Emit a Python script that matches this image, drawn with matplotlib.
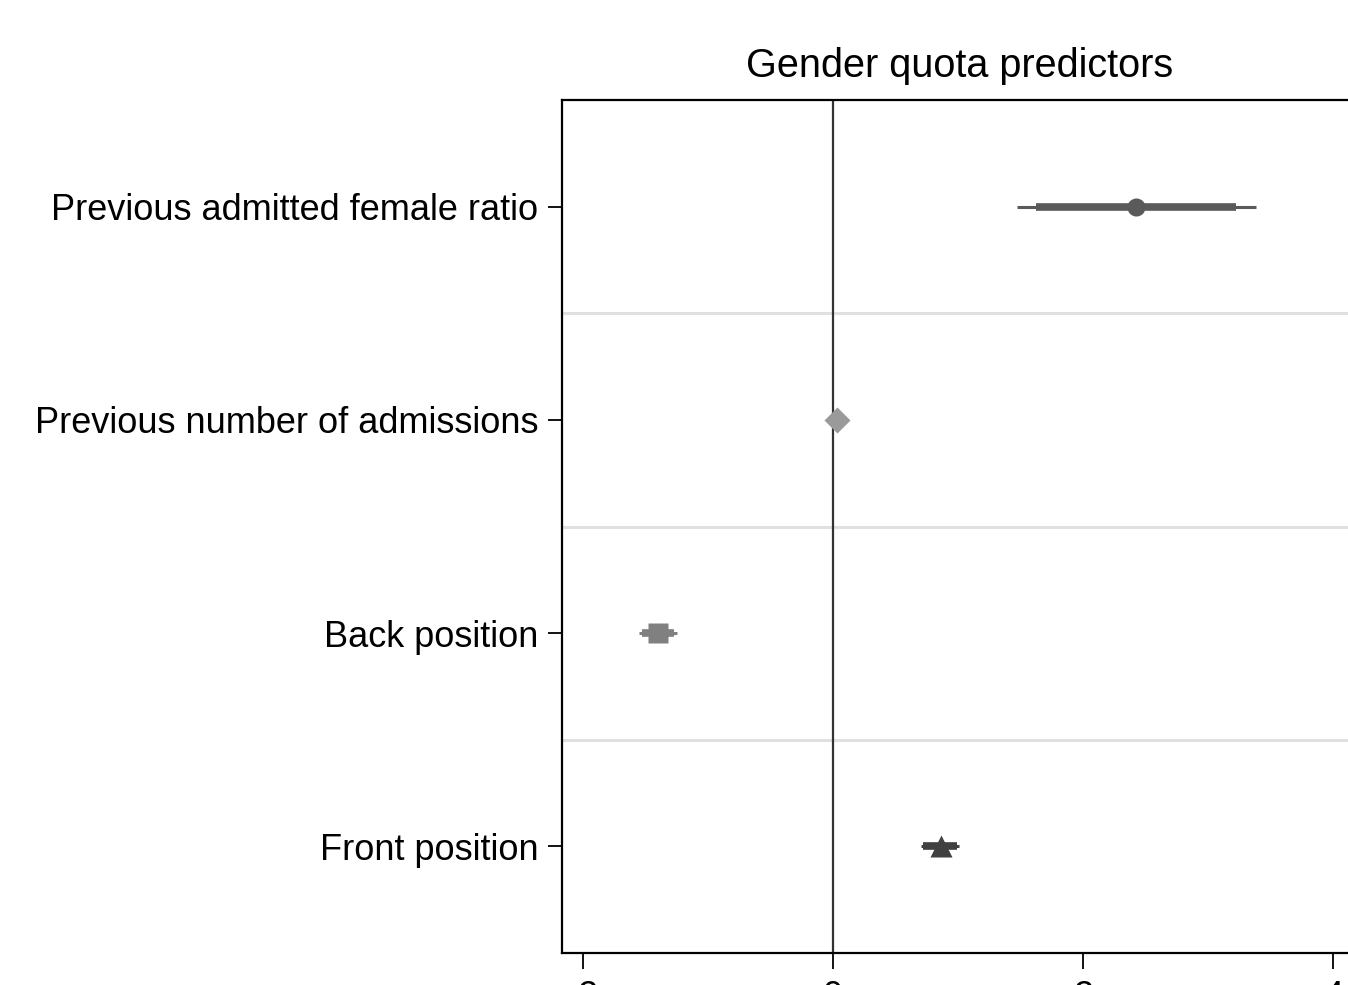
import matplotlib
matplotlib.use('Agg')
import matplotlib.pyplot as plt

plt.rcParams['font.family'] = ['Liberation Sans', 'DejaVu Sans']

# data
labels = ['Previous admitted female ratio', 'Previous number of admissions',
          'Back position', 'Front position']
est = [2.42, 0.03, -1.40, 0.86]
lo95 = [1.47, 0.01, -1.55, 0.70]
hi95 = [3.38, 0.05, -1.25, 1.01]
lo90 = [1.62, 0.02, -1.53, 0.72]
hi90 = [3.22, 0.04, -1.27, 0.99]
markers = ['o', 'D', 's', '^']
msizes = [13, 13.5, 14.4, 16]
colors = ['#5a5a5a', '#9a9a9a', '#808080', '#404040']
xticks = [-2, 0, 2, 4]

fig = plt.figure(figsize=(13.48, 9.85), dpi=100)
ax = fig.add_axes([562/1348, 32/985, (1357-562)/1348, 853/985])

ypos = list(range(1, len(labels)+1))

# separators between categories
for y in [1.5, 2.5, 3.5]:
    ax.axhline(y, color='#e0e0e0', lw=2.2, zorder=1)

ax.axvline(0, color='#333333', lw=1.6, zorder=2)

for i in range(len(labels)):
    y = ypos[i]
    ax.plot([lo95[i], hi95[i]], [y, y], color=colors[i], lw=2.2,
            solid_capstyle='butt', zorder=3)
    ax.plot([lo90[i], hi90[i]], [y, y], color=colors[i], lw=5.5,
            solid_capstyle='butt', zorder=4)
    ax.plot(est[i], y, marker=markers[i], ms=msizes[i], color=colors[i],
            mec='none', zorder=5)

ax.set_ylim(4.5, 0.5)
ax.set_xlim(-2.168, 4.19)
ax.set_yticks(ypos)
ax.set_yticklabels(labels, fontsize=26)
ax.set_xticks(xticks)
ax.set_xticklabels([str(t) for t in xticks], fontsize=26)
ax.tick_params(axis='y', length=10, width=1.3, pad=7)
ax.tick_params(axis='x', length=11.5, width=1.3, pad=8)
for s in ax.spines.values():
    s.set_linewidth(1.6)

ax.set_title('Gender quota predictors', fontsize=28.5, pad=16.5)

fig.savefig('out.png', dpi=100)
